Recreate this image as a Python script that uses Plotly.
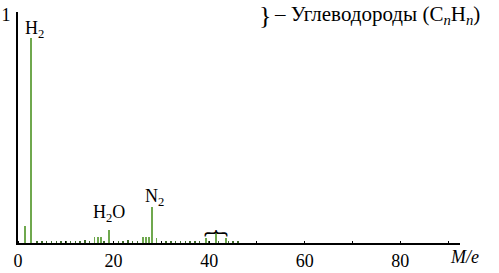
import plotly.graph_objects as go

# Major peaks (M/e position, relative intensity)
major_mz = [1.5, 2.65, 16.0, 16.7, 17.4, 19.1, 26.2, 26.8, 27.4, 28.1, 29.0, 39.3, 41.4, 43.5]
major_int = [0.075, 0.90, 0.026, 0.026, 0.026, 0.057, 0.026, 0.026, 0.026, 0.16, 0.02, 0.02, 0.044, 0.02]

# Small background peaks along the baseline
bg_mz = [4, 5, 6, 7, 8, 9, 10, 11, 12, 13, 14, 15, 18, 20, 21, 22, 23, 24, 25,
         30, 31, 32, 33, 34, 35, 36, 37, 38, 40, 42, 44, 45, 46]
bg_int = [0.01, 0.01, 0.01, 0.01, 0.01, 0.01, 0.01, 0.01, 0.01, 0.01, 0.012, 0.01, 0.01,
          0.01, 0.01, 0.01, 0.012, 0.01, 0.01, 0.01, 0.01, 0.01, 0.01, 0.01, 0.01, 0.01,
          0.01, 0.01, 0.01, 0.01, 0.01, 0.01, 0.01]

x_ticks = [0, 20, 40, 60, 80]
y_ticks = [1]

FONT = "Liberation Serif"
GREEN = "#6fa84e"

fig = go.Figure()
fig.add_trace(go.Bar(x=bg_mz, y=bg_int, width=0.3, marker_color="#3f6b2a",
                     marker_line_width=0, showlegend=False, hoverinfo="skip"))
fig.add_trace(go.Bar(x=major_mz, y=major_int, width=0.35, marker_color=GREEN,
                     marker_line_width=0, showlegend=False, hoverinfo="skip"))

ann = [
    dict(x=3.4, y=0.935, text="H<sub>2</sub>"),
    dict(x=19.1, y=0.13, text="H<sub>2</sub>O"),
    dict(x=28.5, y=0.2, text="N<sub>2</sub>"),
]
annotations = [dict(x=a["x"], y=a["y"], text=a["text"], xref="x", yref="y",
                    showarrow=False, font=dict(family=FONT, size=18, color="black"),
                    xanchor="center", yanchor="middle") for a in ann]
annotations.append(dict(x=41.5, y=0.085, text="︷", xref="x", yref="y", showarrow=False,
                        font=dict(family="Noto Sans CJK SC", size=24, color="black"),
                        xanchor="center", yanchor="middle"))
annotations.append(dict(x=(265 - 18) / 442, y=0.985, xref="paper", yref="paper", showarrow=False,
                        text="}", font=dict(family=FONT, size=26, color="black"),
                        xanchor="center", yanchor="middle"))
annotations.append(dict(x=(272 - 18) / 442, y=0.985, xref="paper", yref="paper", showarrow=False,
                        text="– Углеводороды (C<sub><i>n</i></sub>H<sub><i>n</i></sub>)",
                        font=dict(family=FONT, size=21, color="black"),
                        xanchor="left", yanchor="middle"))
annotations.append(dict(x=1.011, y=-0.06, xref="paper", yref="paper", showarrow=False,
                        text="<i>M/e</i>", font=dict(family=FONT, size=18, color="black"),
                        xanchor="center", yanchor="middle"))

fig.update_layout(
    width=499, height=273,
    margin=dict(l=18, r=39, t=12, b=30, autoexpand=False),
    paper_bgcolor="white", plot_bgcolor="white",
    bargap=0, barmode="overlay",
    font=dict(family=FONT, size=17, color="black"),
    annotations=annotations,
    xaxis=dict(range=[0, 92.5], tickvals=x_ticks, ticktext=[str(v) for v in x_ticks],
               showline=True, linecolor="black", linewidth=2, showgrid=False, zeroline=False,
               ticks="", automargin=False,
               tickfont=dict(family=FONT, size=18),
               minor=dict(dtick=10, ticks="inside", ticklen=2, tickcolor="black", showgrid=False)),
    yaxis=dict(range=[0, 1.013], tickvals=y_ticks, ticktext=["1"], automargin=False,
               showline=True, linecolor="black", linewidth=2, showgrid=False, zeroline=False,
               ticks="outside", ticklen=2, tickcolor="rgba(0,0,0,0)",
               tickfont=dict(family=FONT, size=18)),
)

fig.write_html("out.html", config={"displayModeBar": False, "staticPlot": True},
               post_script="document.body.style.margin='0';document.body.style.overflow='hidden';")
